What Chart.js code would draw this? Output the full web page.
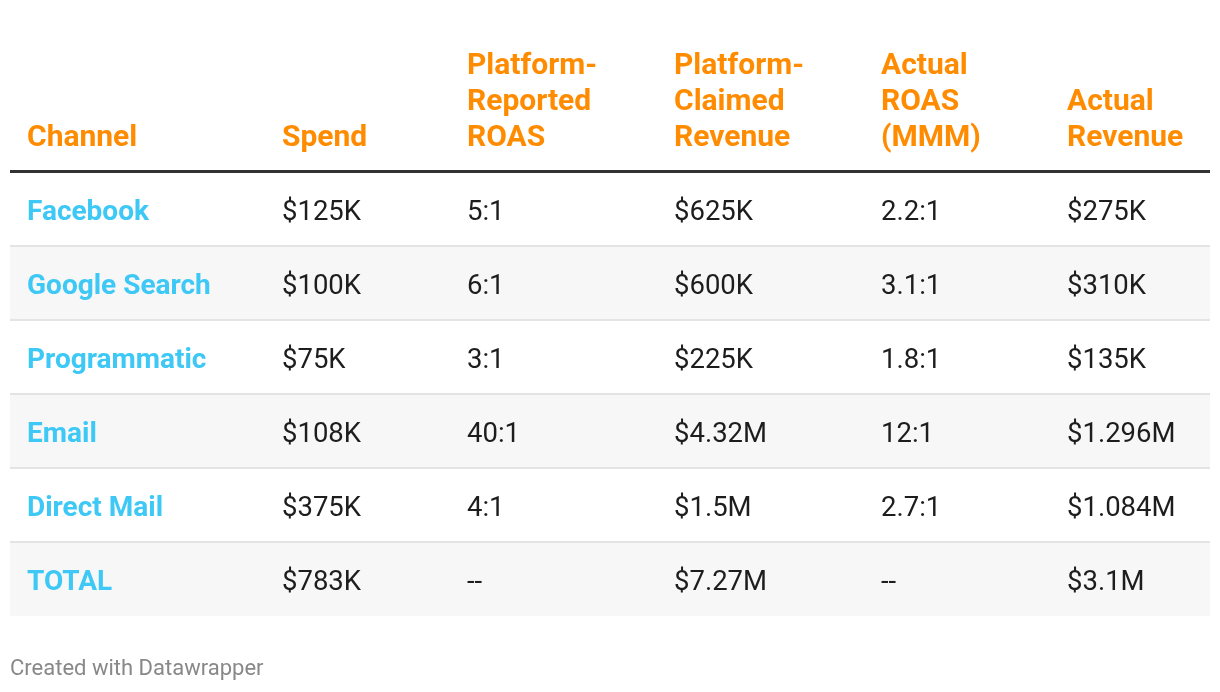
<!DOCTYPE html>
<html>
<head>
<meta charset="utf-8">
<script src="https://cdn.jsdelivr.net/npm/chart.js@4"></script>
<style>
  html, body { margin: 0; padding: 0; background: #fff; }
  #wrap { width: 1220px; height: 692px; position: relative; }
</style>
</head>
<body>
<div id="wrap"><canvas id="chart1"></canvas></div>
<script>
// table contents
const headers = [['Channel'], ['Spend'], ['Platform-', 'Reported', 'ROAS'], ['Platform-', 'Claimed', 'Revenue'], ['Actual', 'ROAS', '(MMM)'], ['Actual', 'Revenue']];
const channels = ['Facebook', 'Google Search', 'Programmatic', 'Email', 'Direct Mail', 'TOTAL'];
const spend = ['$125K', '$100K', '$75K', '$108K', '$375K', '$783K'];
const reportedRoas = ['5:1', '6:1', '3:1', '40:1', '4:1', '--'];
const claimedRevenue = ['$625K', '$600K', '$225K', '$4.32M', '$1.5M', '$7.27M'];
const actualRoas = ['2.2:1', '3.1:1', '1.8:1', '12:1', '2.7:1', '--'];
const actualRevenue = ['$275K', '$310K', '$135K', '$1.296M', '$1.084M', '$3.1M'];

// layout
const colLeft = [27, 282, 467, 674, 881, 1067];
const columns = [channels, spend, reportedRoas, claimedRevenue, actualRoas, actualRevenue];

const ORANGE = '#ff8c00';
const BLUE = '#3ec8f5';

const tablePlugin = {
    id: 'tableText',
    afterDatasetsDraw(chart) {
        const ctx = chart.ctx;
        const area = chart.chartArea;
        const yScale = chart.scales.y;
        ctx.save();

        // header
        ctx.font = 'bold 30px Roboto';
        ctx.fillStyle = ORANGE;
        ctx.textBaseline = 'alphabetic';
        ctx.textAlign = 'left';
        for (let c = 0; c < headers.length; c++) {
            const lines = headers[c];
            for (let l = 0; l < lines.length; l++) {
                const y = area.top - 26 - (lines.length - 1 - l) * 36;
                ctx.fillText(lines[l], colLeft[c], y);
            }
        }

        // thick header rule
        ctx.fillStyle = '#333333';
        ctx.fillRect(area.left, area.top - 2, area.right - area.left, 3);

        // row separators between rows
        ctx.fillStyle = '#e4e4e4';
        for (let r = 1; r < channels.length; r++) {
            const y = (yScale.getPixelForValue(r - 1) + yScale.getPixelForValue(r)) / 2;
            ctx.fillRect(area.left, Math.round(y) - 1, area.right - area.left, 2);
        }

        // body cells
        for (let r = 0; r < channels.length; r++) {
            const y = yScale.getPixelForValue(r) + 10.5;
            for (let c = 0; c < columns.length; c++) {
                if (c === 0) {
                    ctx.font = 'bold 28px Roboto';
                    ctx.fillStyle = BLUE;
                } else {
                    ctx.font = '27.5px Roboto';
                    ctx.fillStyle = '#1d1d1d';
                }
                ctx.fillText(columns[c][r], colLeft[c], y);
            }
        }

        // footer
        ctx.font = '22px Roboto';
        ctx.fillStyle = '#888888';
        ctx.fillText('Created with Datawrapper', 10, 675);
        ctx.restore();
    }
};

const ctx1 = document.getElementById('chart1').getContext('2d');
const chart1 = new Chart(ctx1, {
    type: 'bar',
    data: {
        labels: channels,
        datasets: [{
            data: channels.map(() => 1),
            backgroundColor: channels.map((ch, i) => i % 2 === 1 ? '#f7f7f7' : '#ffffff'),
            borderWidth: 0,
            barPercentage: 1,
            categoryPercentage: 1
        }]
    },
    options: {
        indexAxis: 'y',
        responsive: true,
        maintainAspectRatio: false,
        animation: false,
        events: [],
        layout: { padding: { left: 10, right: 10, top: 172, bottom: 76 } },
        plugins: { legend: { display: false }, tooltip: { enabled: false } },
        scales: {
            x: { display: false, min: 0, max: 1 },
            y: { display: false }
        }
    },
    plugins: [tablePlugin]
});
</script>
</body>
</html>
